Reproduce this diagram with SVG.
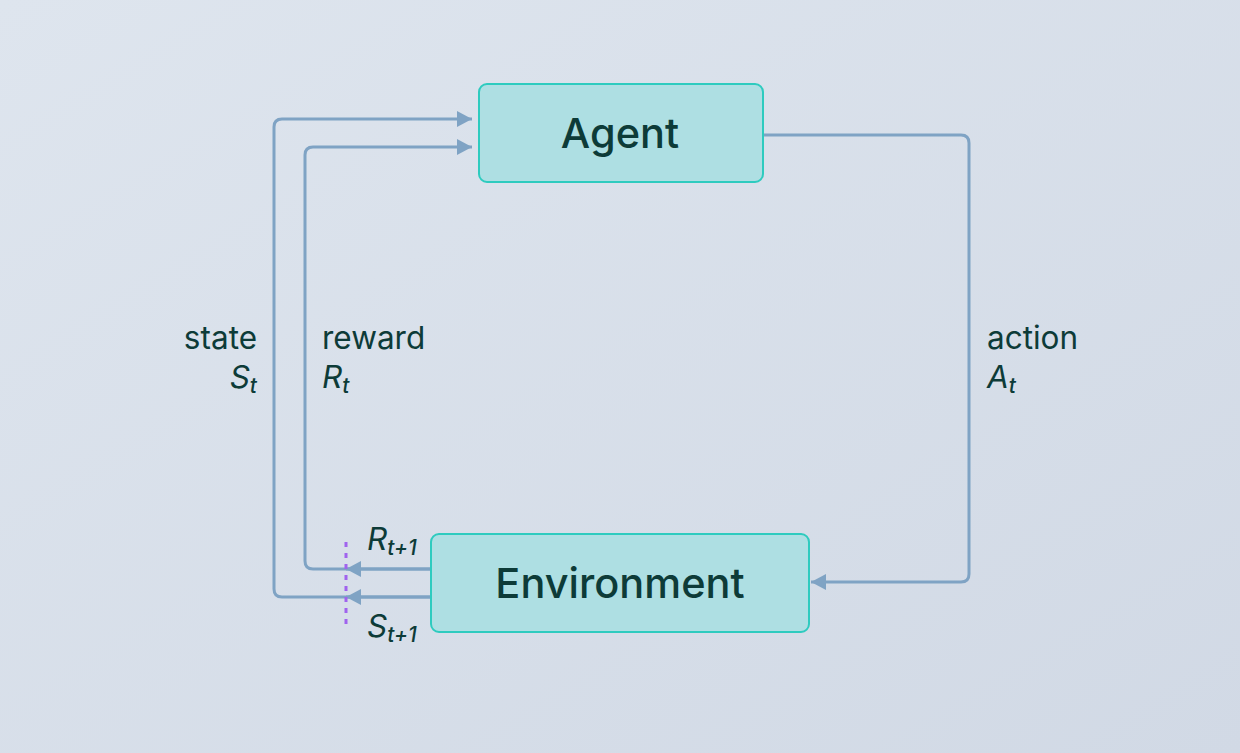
<svg xmlns="http://www.w3.org/2000/svg" width="1240" height="753" viewBox="0 0 1240 753">
<defs>
<linearGradient id="bg" x1="0" y1="0" x2="1" y2="1">
<stop offset="0" stop-color="#dee5ee"/>
<stop offset="1" stop-color="#d1d9e5"/>
</linearGradient>
<marker id="arr" markerWidth="15" markerHeight="16" refX="15" refY="8" orient="auto" markerUnits="userSpaceOnUse">
<path d="M0,0 L15,8 L0,16 Z" fill="#7fa3c4"/>
</marker>
<style>
.box{fill:#aedfe3;stroke:#2ecbbf;stroke-width:2}
.lbl{font-family:Inter,"Liberation Sans",sans-serif;fill:#0d3b38}
.big{font-size:41.5px;font-weight:500;text-anchor:middle}
.sm{font-size:31.5px}
.it{font-style:italic}
.sub{font-size:21px;font-style:italic;font-weight:500}
.conn{fill:none;stroke:#7fa3c4;stroke-width:3}
</style>
</defs>
<rect width="1240" height="753" fill="url(#bg)"/>
<g id="connectors">
<path class="conn" d="M761,135 H961 Q969,135 969,143 V574 Q969,582 961,582 H811" marker-end="url(#arr)"/>
<path class="conn" d="M431,597 H282 Q274,597 274,589 V127 Q274,119 282,119 H472" marker-end="url(#arr)"/>
<path class="conn" d="M431,569 H313 Q305,569 305,561 V155 Q305,147 313,147 H472" marker-end="url(#arr)"/>
<path class="conn" d="M431,569 H346" marker-end="url(#arr)"/>
<path class="conn" d="M431,597 H346" marker-end="url(#arr)"/>
<line x1="346" y1="542" x2="346" y2="625" stroke="#a063ee" stroke-width="3" stroke-dasharray="5,6"/>
</g>
<g id="agent">
<rect class="box" x="479" y="84" width="284" height="98" rx="8"/>
<text class="lbl big" x="620" y="148">Agent</text>
</g>
<g id="environment">
<rect class="box" x="431" y="534" width="378" height="98" rx="8"/>
<text class="lbl big" x="620" y="598">Environment</text>
</g>
<g id="labels">
<text class="lbl sm" x="257" y="349" text-anchor="end">state</text>
<text class="lbl sm" x="257" y="388" text-anchor="end"><tspan class="it">S</tspan><tspan class="sub" dy="5">t</tspan></text>
<text class="lbl sm" x="322" y="349">reward</text>
<text class="lbl sm" x="322" y="388"><tspan class="it">R</tspan><tspan class="sub" dy="5">t</tspan></text>
<text class="lbl sm" x="987" y="349">action</text>
<text class="lbl sm" x="987" y="388"><tspan class="it">A</tspan><tspan class="sub" dy="5">t</tspan></text>
<text class="lbl sm" x="367" y="550"><tspan class="it">R</tspan><tspan class="sub" dy="5">t+1</tspan></text>
<text class="lbl sm" x="367" y="637"><tspan class="it">S</tspan><tspan class="sub" dy="5">t+1</tspan></text>
</g>
</svg>
